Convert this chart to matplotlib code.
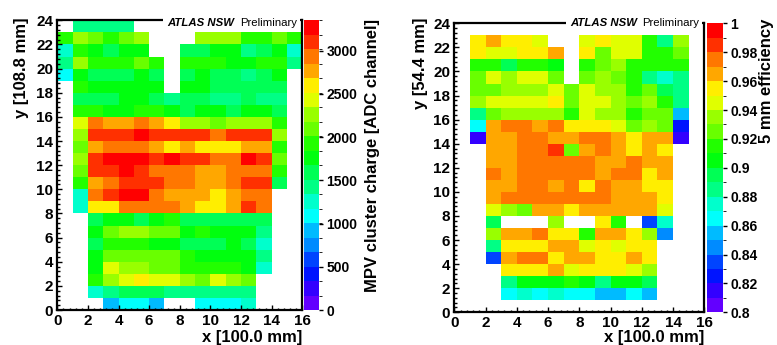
import colorsys
import numpy as np
import matplotlib
matplotlib.use("Agg")
import matplotlib.pyplot as plt
from matplotlib.colors import ListedColormap, BoundaryNorm
from matplotlib.ticker import MultipleLocator

matplotlib.rcParams["font.family"] = ["Liberation Sans", "DejaVu Sans"]
matplotlib.rcParams["font.weight"] = "bold"

n = np.nan

# bin edges (x and y in detector units)
x_edges = np.arange(0, 17)
y_edges = np.arange(0, 25)

# MPV cluster charge [ADC channel], one row per y bin, from y=23 (top) to y=0
charge = [
    [n, 1420, 1420, 1420, 1420, n, n, n, n, n, n, n, n, n, n, n],
    [1930, 2260, 2090, 1930, 2090, 2260, n, n, n, 2260, 2260, 2260, 1930, 1930, 2090, 1930],
    [1260, 1930, 1760, 1590, 1760, 1760, n, n, 1590, 1590, 1760, 1760, 1420, 1590, 1760, 1260],
    [1420, 2260, 1930, 1930, 1930, 2090, 1930, n, 1930, 1930, 1930, 1760, 1760, 1930, 1930, 1420],
    [1090, 1760, 1590, 1590, 1590, 1760, 1590, n, 1590, 1760, 1590, 1590, 1420, 1590, 1760, n],
    [n, 1930, 1760, 1760, 1760, 1760, 1760, n, 1760, 1760, 1590, 1590, 1590, 1590, 1590, n],
    [n, 1590, 1590, 1590, 1760, 1760, 1590, 1420, 1590, 1590, 1420, 1420, 1590, 1420, 1420, n],
    [n, 1930, 1930, 1760, 1760, 1930, 1930, 1760, 1590, 1760, 1760, 1590, 1760, 1760, 1590, n],
    [n, 2430, 2930, 2760, 2760, 2930, 2760, 2600, 2260, 2260, 2090, 2260, 2260, 2260, 1930, n],
    [n, 2260, 3100, 3100, 3100, 3270, 3100, 3100, 3100, 3100, 2930, 3100, 3100, 3100, 2260, n],
    [n, 2090, 2760, 2930, 2930, 2930, 2760, 2600, 2760, 2600, 2600, 2600, 2760, 2760, 1930, n],
    [n, 2260, 3100, 3270, 3270, 3270, 3100, 3270, 3100, 3100, 2930, 2930, 3270, 3100, 2090, n],
    [n, 2090, 3100, 3100, 3270, 3100, 2930, 2930, 2930, 2760, 2760, 2930, 2930, 2930, 1930, n],
    [n, 1930, 2760, 2930, 3100, 3100, 3100, 2930, 2930, 2760, 2760, 2930, 3100, 3100, 1590, n],
    [n, 1260, 2930, 3100, 3270, 3270, 2930, 2760, 2760, 2760, 2600, 2760, 2930, 2930, n, n],
    [n, 1260, 2600, 2600, 2930, 2930, 2930, 2930, 2760, 2600, 2600, 2760, 3100, 2930, n, n],
    [n, n, 1590, 1760, 1760, 1590, 1760, 1930, 1590, 1590, 1590, 1590, 1590, 1590, n, n],
    [n, n, 1760, 2090, 2260, 2260, 2090, 2090, 1760, 1930, 1760, 1760, 1760, 1420, n, n],
    [n, n, 1590, 1930, 1930, 1930, 1760, 1760, 1590, 1590, 1590, 1760, 1590, 1260, n, n],
    [n, n, 1760, 2090, 2090, 2090, 2090, 2090, 1930, 1760, 1760, 1760, 1760, 1420, n, n],
    [n, n, 1760, 2430, 2260, 2260, 2090, 2090, 1930, 1930, 1930, 1930, 1760, 1260, n, n],
    [n, n, 1930, 2260, 2430, 2600, 2430, 2430, 2260, 2090, 2430, 2260, 2090, n, n, n],
    [n, n, 1260, 1420, 1590, 1590, 1590, 1420, 1420, 1420, 1420, 1420, 1420, n, n, n],
    [n, n, n, 920, 1090, 1090, 920, n, n, 1090, 1090, 1090, 1260, n, n, n],
]

# 5 mm efficiency, same layout
eff = [
    [n] * 16,
    [n, .955, .965, .955, .955, .945, n, n, .945, .955, .945, .945, .915, .885, .935, n],
    [n, .955, .945, .945, .955, .955, .965, n, .955, .925, .945, .945, .915, .915, .925, n],
    [n, .915, .915, .895, .915, .915, .905, n, .915, .925, .935, .915, .915, .915, .915, n],
    [n, .925, .945, .935, .945, .945, .925, n, .925, .935, .925, .915, .885, .875, .885, n],
    [n, .925, .925, .935, .935, .935, .945, .925, .945, .935, .935, .915, .925, .895, .885, n],
    [n, .935, .945, .945, .945, .945, .955, .925, .945, .945, .935, .925, .935, .915, .885, n],
    [n, .885, .925, .935, .935, .935, .935, .915, .945, .935, .935, .915, .925, .925, .855, n],
    [n, .865, .965, .975, .975, .965, .975, .955, .955, .955, .945, .925, .935, .925, .825, n],
    [n, .815, .965, .965, .975, .975, .965, .965, .975, .975, .965, .955, .965, .965, .815, n],
    [n, n, .965, .965, .975, .975, .985, .925, .965, .975, .965, .955, .965, .955, n, n],
    [n, n, .965, .965, .975, .975, .975, .975, .975, .965, .965, .975, .965, .965, n, n],
    [n, n, .975, .965, .975, .975, .975, .975, .975, .965, .975, .975, .955, .965, n, n],
    [n, n, .965, .965, .975, .975, .965, .975, .955, .975, .965, .965, .955, .955, n, n],
    [n, n, .965, .975, .975, .975, .975, .975, .975, .975, .965, .965, .965, .955, n, n],
    [n, n, .945, .935, .925, .965, .965, .955, .965, .965, .965, .965, .965, .945, n, n],
    [n, n, .895, n, n, n, .935, n, n, .955, .915, n, .835, .875, n, n],
    [n, n, .935, .965, .965, .975, .955, .955, .915, .965, .965, .955, .935, .845, n, n],
    [n, n, .885, .955, .955, .955, .965, .965, .945, .955, .945, .955, .955, n, n, n],
    [n, n, .835, .965, .975, .975, .955, .965, .965, .955, .955, .965, .955, n, n, n],
    [n, n, n, .955, .955, .955, .965, .945, .955, .955, .955, .945, .935, n, n, n],
    [n, n, n, .885, .905, .905, .905, .915, .905, .885, .905, .905, .895, n, n, n],
    [n, n, n, .865, .875, .865, .875, .865, .865, .855, .855, .865, .855, n, n, n],
    [n] * 16,
]

charge_range = (0, 3350)
charge_ticks = [0, 500, 1000, 1500, 2000, 2500, 3000]
eff_range = (0.8, 1.0)
eff_ticks = [0.8, 0.82, 0.84, 0.86, 0.88, 0.9, 0.92, 0.94, 0.96, 0.98, 1.0]
eff_ticklabels = ["0.8", "0.82", "0.84", "0.86", "0.88", "0.9", "0.92", "0.94", "0.96", "0.98", "1"]

# ROOT "pretty" violet->red palette, sampled for 20 contour levels
pal = []
for i in range(20):
    k = int((i + 0.99) * 50 / 20)
    hue = max(280 - (k + 1) * 5.6, 0)
    pal.append(colorsys.hls_to_rgb(hue / 360.0, 0.5, 1.0))
cmap = ListedColormap(pal)

W, H = 777.0, 345.0


def rect(x0, y0, x1, y1):
    # pixel box -> figure fraction
    return [x0 / W, 1 - y1 / H, (x1 - x0) / W, (y1 - y0) / H]


fig = plt.figure(figsize=(7.77, 3.45), dpi=100)


def panel(ax_box, cb_box, data, zr, ticks, ticklabels, ylab, ylab_x, cblab, cblab_x, atlas_x):
    ax = fig.add_axes(rect(*ax_box))
    z = np.ma.masked_invalid(np.array(data, dtype=float)[::-1])
    norm = BoundaryNorm(np.linspace(zr[0], zr[1], 21), 20)
    m = ax.pcolormesh(x_edges, y_edges, z, cmap=cmap, norm=norm)
    ax.set_xlim(0, 16)
    ax.set_ylim(0, 24)
    ax.xaxis.set_major_locator(MultipleLocator(2))
    ax.xaxis.set_minor_locator(MultipleLocator(0.4))
    ax.yaxis.set_major_locator(MultipleLocator(2))
    ax.yaxis.set_minor_locator(MultipleLocator(0.4))
    ax.tick_params(which="both", direction="in", width=1.0, labelsize=11, pad=3)
    ax.tick_params(which="major", length=3.5)
    ax.tick_params(which="minor", length=1.8)
    for s in ax.spines.values():
        s.set_linewidth(1.6)

    cax = fig.add_axes(rect(*cb_box))
    cb = fig.colorbar(m, cax=cax, ticks=ticks)
    cb.outline.set_visible(False)
    cax.set_yticklabels(ticklabels)
    cax.tick_params(length=3, width=1.0, labelsize=10, pad=2)

    fig.text(ylab_x / W, 1 - 18 / H, ylab, rotation=90, ha="center", va="top", fontsize=12)
    fig.text(ax_box[2] / W, 1 - 330 / H, "x [100.0 mm]", ha="right", va="top", fontsize=12)
    fig.text(cblab_x / W, 1 - 19 / H, cblab, rotation=90, ha="center", va="top", fontsize=12)

    bb = dict(facecolor="white", edgecolor="none", pad=3.0)
    fig.text(atlas_x[0] / W, 1 - 22.5 / H, "ATLAS NSW", style="italic", fontsize=8.2,
             ha="left", va="center", bbox=bb)
    fig.text(atlas_x[1] / W, 1 - 22.5 / H, "Preliminary", weight="normal", fontsize=8.2,
             ha="right", va="center", bbox=dict(facecolor="white", edgecolor="none", pad=2.5))
    return ax


panel((57.3, 20.3, 302.3, 310.0), (304, 20.3, 319.3, 310.0), charge, charge_range,
      charge_ticks, [str(t) for t in charge_ticks], "y [108.8 mm]", 22,
      "MPV cluster charge [ADC channel]", 373, (167, 297))
panel((454.3, 23.3, 704.3, 312.3), (707.3, 23.3, 723.3, 312.3), eff, eff_range,
      eff_ticks, eff_ticklabels, "y [54.4 mm]", 420,
      "5 mm efficiency", 767, (570, 699))

fig.savefig("out.png", dpi=100)
